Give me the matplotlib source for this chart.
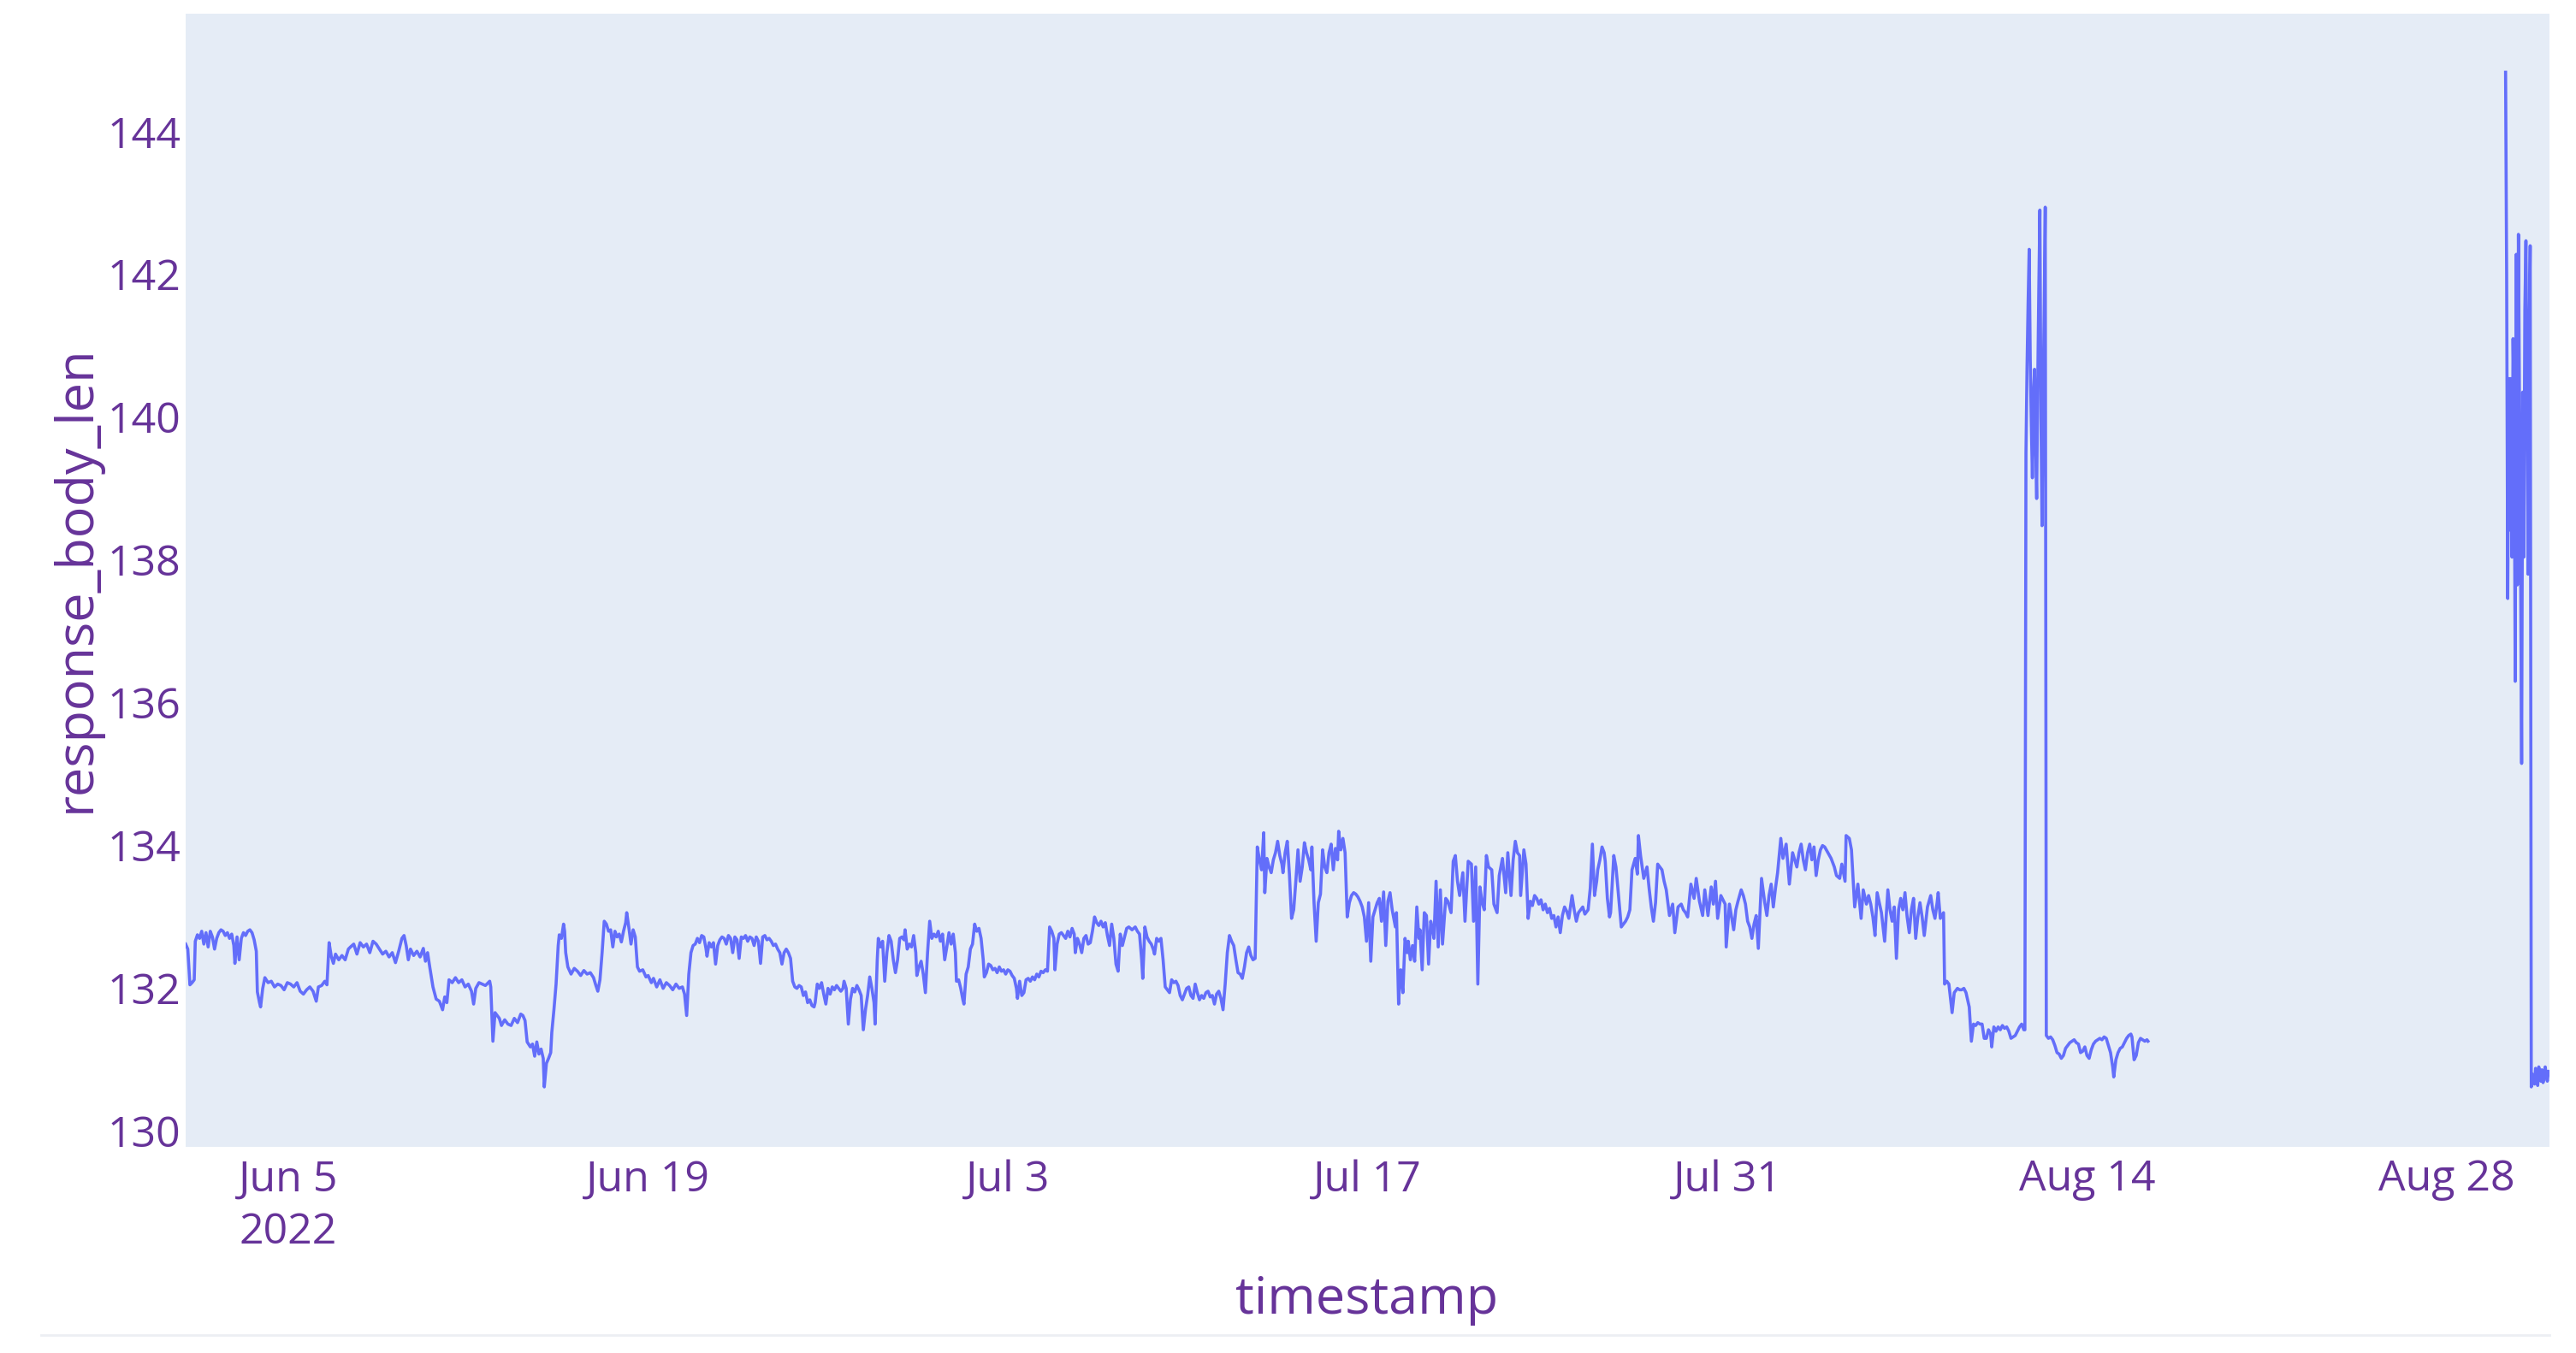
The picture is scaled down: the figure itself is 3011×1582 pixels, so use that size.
import numpy as np
import pandas as pd
import matplotlib
matplotlib.use('Agg')
import matplotlib.pyplot as plt
from matplotlib.lines import Line2D

start = pd.Timestamp('2022-06-01 00:00')

# (hours since Jun 1 00:00, response_body_len)
p1 = [(0, 132.62), (2, 132.55), (4, 132.05), (6, 132.08), (8, 132.12), (9, 132.66), (11, 132.75),
      (13, 132.70), (15, 132.80), (17, 132.62), (19, 132.78), (21, 132.58), (23, 132.80), (25, 132.72),
      (27, 132.55), (29, 132.70), (31, 132.78), (33, 132.82), (35, 132.80), (37, 132.74), (39, 132.78),
      (41, 132.70), (43, 132.76), (45, 132.60), (46, 132.35), (48, 132.72), (50, 132.40), (52, 132.70),
      (54, 132.78), (56, 132.74), (58, 132.80), (60, 132.82), (62, 132.78), (64, 132.68), (66, 132.52),
      (67, 131.95), (69, 131.80), (70, 131.74), (72, 132.00), (74, 132.15), (77, 132.08), (80, 132.10),
      (83, 132.02), (86, 132.06), (89, 132.04), (92, 131.98), (95, 132.08), (98, 132.06), (101, 132.02),
      (104, 132.08), (107, 131.96), (110, 131.92), (113, 131.98), (116, 132.02), (119, 131.96),
      (122, 131.82), (124, 132.02), (127, 132.04), (130, 132.10), (132, 132.05), (134, 132.64),
      (136, 132.45), (138, 132.35), (140, 132.48), (143, 132.40), (146, 132.46), (149, 132.40),
      (152, 132.55), (154, 132.58), (157, 132.62), (160, 132.48), (163, 132.64), (166, 132.58),
      (169, 132.62), (172, 132.50), (175, 132.66), (178, 132.62), (181, 132.55), (184, 132.48),
      (187, 132.52), (190, 132.44), (193, 132.50), (196, 132.36), (199, 132.52), (202, 132.70),
      (204, 132.74), (206, 132.60), (208, 132.40), (210, 132.55), (213, 132.46), (216, 132.52),
      (219, 132.44), (222, 132.56), (224, 132.38), (226, 132.50), (228, 132.30), (231, 132.02),
      (234, 131.85), (237, 131.82), (240, 131.70), (242, 131.88), (244, 131.80), (246, 132.12),
      (249, 132.08), (252, 132.15), (255, 132.08), (258, 132.12), (261, 132.02), (264, 132.06),
      (267, 131.96), (269, 131.78), (271, 132.00), (274, 132.08), (277, 132.06), (280, 132.04)]

p2 = [(284, 132.10), (285, 132.02), (287, 131.26), (289, 131.66), (291, 131.62), (293, 131.58),
      (295, 131.48), (298, 131.56), (301, 131.50), (304, 131.48), (307, 131.58), (310, 131.52),
      (313, 131.64), (315, 131.62), (317, 131.55), (319, 131.25), (322, 131.18), (324, 131.22),
      (326, 131.05), (328, 131.25), (330, 131.08), (332, 131.15), (334, 131.02), (335, 130.62),
      (337, 130.95), (339, 131.02), (341, 131.10), (342, 131.38), (344, 131.70), (346, 132.06),
      (348, 132.60), (349, 132.75), (351, 132.70), (353, 132.90), (354, 132.80), (355, 132.50),
      (357, 132.30), (360, 132.20), (363, 132.28), (366, 132.24), (369, 132.18), (372, 132.25),
      (375, 132.20), (378, 132.22), (381, 132.15), (383, 132.05), (385, 131.96), (387, 132.12),
      (389, 132.50), (391, 132.94), (393, 132.90), (395, 132.80), (397, 132.82), (399, 132.58),
      (401, 132.80), (403, 132.72), (405, 132.76), (407, 132.65), (409, 132.80), (411, 132.92),
      (412, 133.06), (414, 132.85), (416, 132.62), (418, 132.82), (420, 132.72), (422, 132.30),
      (424, 132.24), (427, 132.26), (430, 132.16), (432, 132.18), (435, 132.08), (437, 132.14),
      (440, 132.02), (443, 132.12), (446, 132.00), (449, 132.08), (452, 132.04), (455, 131.98),
      (458, 132.06), (461, 132.00), (464, 132.02), (466, 131.92), (468, 131.62), (470, 132.20),
      (472, 132.50), (474, 132.60), (476, 132.62), (478, 132.70), (480, 132.64), (482, 132.74),
      (484, 132.72), (486, 132.56), (487, 132.45), (489, 132.64), (491, 132.58), (493, 132.64),
      (495, 132.34), (497, 132.60), (499, 132.68), (501, 132.72), (503, 132.70), (505, 132.62),
      (507, 132.74), (509, 132.70), (511, 132.50), (513, 132.72), (515, 132.68), (517, 132.42),
      (519, 132.72), (521, 132.70), (523, 132.74), (525, 132.66), (527, 132.72), (529, 132.70),
      (531, 132.60), (533, 132.72), (535, 132.66), (537, 132.35), (539, 132.72), (541, 132.74),
      (543, 132.68), (545, 132.70), (547, 132.66), (549, 132.60), (551, 132.62), (553, 132.55),
      (555, 132.50), (557, 132.34), (559, 132.50), (561, 132.55)]

p3 = [(563, 132.50), (565, 132.42), (567, 132.10), (569, 132.02), (571, 132.00), (573, 132.04),
      (575, 132.02), (577, 131.90), (579, 131.95), (581, 131.80), (583, 131.84), (585, 131.76),
      (587, 131.74), (588, 131.80), (590, 132.06), (592, 132.00), (594, 132.08), (596, 131.92),
      (598, 131.78), (600, 132.00), (602, 131.92), (604, 132.02), (606, 131.98), (608, 132.04),
      (610, 132.00), (612, 131.96), (614, 132.00), (615, 132.10), (617, 132.00), (619, 131.50),
      (621, 131.85), (623, 132.00), (625, 131.95), (627, 132.04), (629, 131.98), (631, 131.90),
      (633, 131.42), (635, 131.70), (637, 131.90), (639, 132.16), (641, 132.00), (643, 131.80),
      (644, 131.50), (646, 132.40), (647, 132.70), (649, 132.58), (651, 132.66), (653, 132.10),
      (655, 132.50), (657, 132.74), (659, 132.66), (661, 132.40), (663, 132.22), (665, 132.40),
      (667, 132.70), (669, 132.72), (671, 132.68), (672, 132.82), (674, 132.55), (676, 132.62),
      (678, 132.58), (680, 132.74), (682, 132.50), (683, 132.18), (685, 132.30), (687, 132.38),
      (689, 132.20), (691, 131.94), (693, 132.50), (695, 132.94), (697, 132.70), (699, 132.76),
      (701, 132.72), (703, 132.80), (705, 132.66), (707, 132.76), (709, 132.40), (711, 132.58),
      (713, 132.78), (715, 132.62), (717, 132.76), (719, 132.50), (720, 132.10), (722, 132.12),
      (724, 132.00), (726, 131.84), (727, 131.78), (729, 132.20), (731, 132.30), (733, 132.55),
      (735, 132.62), (737, 132.90), (739, 132.80), (741, 132.84), (743, 132.70), (745, 132.40),
      (746, 132.16), (748, 132.22), (750, 132.34), (752, 132.32), (754, 132.26), (756, 132.28),
      (758, 132.22), (760, 132.30), (762, 132.24), (764, 132.26), (766, 132.20), (768, 132.26),
      (770, 132.24), (772, 132.18), (774, 132.14), (776, 132.00), (777, 131.86), (779, 132.10),
      (781, 131.90), (783, 131.94), (785, 132.12), (787, 132.14), (789, 132.10), (791, 132.16),
      (793, 132.12), (795, 132.20), (797, 132.16), (799, 132.24), (801, 132.22), (803, 132.26),
      (805, 132.24), (807, 132.86), (809, 132.80), (811, 132.70), (812, 132.26), (814, 132.62),
      (816, 132.76), (818, 132.78), (820, 132.74), (822, 132.70), (824, 132.80), (826, 132.72),
      (828, 132.84), (830, 132.76), (831, 132.50), (833, 132.70), (835, 132.62), (837, 132.50),
      (839, 132.70)]

p4 = [(841, 132.74), (843, 132.62), (845, 132.64), (847, 132.80), (849, 133.00), (851, 132.92),
      (853, 132.88), (855, 132.94), (857, 132.86), (859, 132.92), (861, 132.74), (863, 132.60),
      (865, 132.90), (867, 132.70), (869, 132.34), (871, 132.24), (873, 132.76), (875, 132.60),
      (877, 132.72), (879, 132.84), (881, 132.86), (884, 132.82), (887, 132.86), (889, 132.80),
      (891, 132.76), (893, 132.40), (894, 132.14), (896, 132.86), (898, 132.72), (900, 132.66),
      (902, 132.62), (904, 132.54), (905, 132.48), (907, 132.70), (909, 132.66), (911, 132.70),
      (913, 132.40), (915, 132.02), (917, 131.98), (919, 131.94), (921, 132.12), (923, 132.08),
      (925, 132.10), (927, 132.04), (929, 131.90), (931, 131.84), (933, 131.92), (935, 132.00),
      (937, 132.02), (939, 131.90), (941, 131.86), (943, 132.06), (945, 131.94), (947, 131.84),
      (949, 131.90), (951, 131.86), (953, 131.94), (955, 131.96), (957, 131.88), (959, 131.90),
      (961, 131.78), (963, 131.92), (965, 131.96), (967, 131.86), (969, 131.70), (971, 132.06),
      (973, 132.50), (975, 132.74), (977, 132.66), (979, 132.60), (981, 132.40), (983, 132.22),
      (985, 132.20), (987, 132.14), (989, 132.30), (991, 132.50), (993, 132.58), (995, 132.46),
      (997, 132.40), (999, 132.42), (1001, 133.98), (1003, 133.80), (1005, 133.66), (1007, 134.18),
      (1008, 133.34), (1010, 133.82), (1012, 133.70), (1014, 133.62), (1016, 133.80), (1018, 133.90),
      (1020, 134.06), (1022, 133.86), (1024, 133.74), (1025, 133.62), (1027, 133.90), (1029, 134.06),
      (1031, 133.60), (1033, 132.98), (1035, 133.10), (1037, 133.50), (1039, 133.94), (1041, 133.50),
      (1043, 133.70), (1045, 134.04), (1047, 133.90), (1049, 133.80), (1051, 133.66), (1052, 133.98),
      (1054, 133.20), (1056, 132.66), (1058, 133.20), (1060, 133.32), (1062, 133.94), (1064, 133.70),
      (1066, 133.62), (1068, 133.90), (1070, 134.02), (1072, 133.66), (1074, 133.96), (1076, 133.80),
      (1077, 134.20), (1079, 133.94), (1081, 134.10), (1083, 133.90), (1085, 133.00), (1087, 133.20),
      (1089, 133.30), (1091, 133.34), (1093, 133.32), (1095, 133.28), (1097, 133.22), (1099, 133.14),
      (1101, 133.00), (1103, 132.66), (1105, 133.20), (1107, 132.38), (1109, 133.00), (1111, 133.10),
      (1113, 133.20), (1115, 133.26), (1117, 132.94), (1119, 133.35), (1121, 132.60)]

p5 = [(1123, 133.22), (1125, 133.34), (1127, 133.10), (1128, 133.02), (1130, 132.86), (1131, 133.06),
      (1133, 131.78), (1134, 132.10), (1135, 132.26), (1137, 131.94), (1139, 132.70), (1141, 132.50),
      (1142, 132.66), (1144, 132.40), (1146, 132.60), (1148, 132.38), (1150, 133.14), (1152, 132.70),
      (1153, 132.82), (1155, 132.26), (1157, 133.06), (1159, 133.02), (1161, 132.34), (1163, 132.94),
      (1165, 132.80), (1166, 132.70), (1168, 133.50), (1170, 132.58), (1172, 133.38), (1174, 132.62),
      (1177, 133.26), (1179, 133.22), (1182, 133.06), (1184, 133.78), (1186, 133.86), (1188, 133.50),
      (1190, 133.30), (1193, 133.62), (1195, 132.94), (1198, 133.78), (1201, 133.74), (1203, 132.94),
      (1205, 133.70), (1207, 132.06), (1209, 133.42), (1211, 133.20), (1213, 133.10), (1215, 133.86),
      (1217, 133.70), (1220, 133.66), (1222, 133.18), (1225, 133.06), (1227, 133.58), (1230, 133.82),
      (1233, 133.34), (1235, 133.90), (1238, 133.30), (1240, 133.80), (1242, 134.06), (1244, 133.90),
      (1246, 133.86), (1247, 133.30), (1250, 133.94), (1252, 133.74), (1254, 132.98), (1256, 133.22),
      (1258, 133.16), (1260, 133.30), (1262, 133.26), (1264, 133.18), (1266, 133.24), (1268, 133.10),
      (1270, 133.18), (1272, 133.06), (1274, 133.12), (1276, 132.98), (1278, 133.02), (1280, 132.86),
      (1282, 133.00), (1284, 132.78), (1286, 133.02), (1288, 133.14), (1290, 133.08), (1292, 132.98),
      (1295, 133.30), (1297, 133.10), (1299, 132.94), (1301, 133.06), (1303, 133.10), (1305, 133.14),
      (1307, 133.04), (1310, 133.10), (1312, 133.40), (1314, 134.02), (1316, 133.30), (1318, 133.50),
      (1319, 133.66), (1321, 133.80), (1323, 133.98), (1325, 133.90), (1326, 133.78), (1328, 133.26),
      (1330, 133.00), (1331, 133.06), (1334, 133.86), (1336, 133.70), (1337, 133.54), (1339, 133.20),
      (1341, 132.86), (1343, 132.90), (1345, 132.94), (1347, 133.00), (1349, 133.10), (1351, 133.66),
      (1354, 133.82), (1356, 133.60), (1357, 134.14), (1359, 133.86), (1362, 133.54), (1365, 133.70),
      (1367, 133.40), (1369, 133.14), (1371, 132.94), (1373, 133.20), (1375, 133.74), (1377, 133.70),
      (1379, 133.66), (1381, 133.50), (1383, 133.38), (1386, 133.02), (1389, 133.18), (1391, 132.78),
      (1394, 133.14), (1397, 133.18), (1399, 133.10)]

p6 = [(1401, 133.06), (1403, 133.00), (1406, 133.46), (1409, 133.26), (1411, 133.54), (1414, 133.22),
      (1417, 133.02), (1419, 133.38), (1422, 133.02), (1425, 133.42), (1427, 133.18), (1429, 133.50),
      (1431, 132.98), (1434, 133.30), (1436, 133.24), (1438, 133.18), (1439, 132.58), (1442, 133.18),
      (1444, 133.00), (1446, 132.82), (1448, 133.10), (1450, 133.22), (1453, 133.38), (1455, 133.30),
      (1457, 133.18), (1459, 132.94), (1461, 132.86), (1463, 132.70), (1465, 132.90), (1467, 133.02),
      (1469, 132.56), (1471, 133.20), (1472, 133.54), (1475, 133.20), (1477, 133.02), (1479, 133.30),
      (1481, 133.46), (1483, 133.14), (1485, 133.40), (1487, 133.62), (1490, 134.10), (1492, 133.82),
      (1495, 134.02), (1498, 133.46), (1501, 133.90), (1503, 133.80), (1505, 133.70), (1507, 133.90),
      (1509, 134.02), (1511, 133.80), (1513, 133.66), (1515, 133.90), (1517, 134.02), (1519, 133.80),
      (1521, 133.98), (1523, 133.58), (1525, 133.80), (1527, 133.94), (1529, 134.00), (1531, 133.98),
      (1534, 133.90), (1537, 133.82), (1540, 133.70), (1542, 133.58), (1545, 133.54), (1547, 133.74),
      (1550, 133.50), (1551, 134.14), (1554, 134.10), (1556, 133.94), (1559, 133.14), (1562, 133.46),
      (1565, 132.98), (1567, 133.38), (1570, 133.18), (1572, 133.30), (1574, 133.18), (1576, 133.00),
      (1578, 132.74), (1580, 133.34), (1582, 133.20), (1584, 133.06), (1587, 132.66), (1590, 133.38),
      (1592, 133.10), (1594, 132.94), (1596, 133.14), (1598, 132.42), (1600, 133.10), (1602, 133.26),
      (1604, 133.10), (1606, 133.34), (1608, 133.00), (1610, 132.78), (1612, 133.10), (1614, 133.26),
      (1616, 132.70), (1618, 133.00), (1620, 133.20), (1622, 133.00), (1624, 132.74), (1626, 133.00),
      (1627, 133.14), (1630, 133.30), (1632, 133.10), (1634, 132.98), (1636, 133.20), (1637, 133.34),
      (1639, 132.98), (1642, 133.06), (1643, 132.06), (1645, 132.10), (1647, 132.06), (1650, 131.66),
      (1652, 131.94), (1655, 132.00), (1657, 131.98), (1659, 131.98), (1661, 132.00), (1663, 131.94),
      (1666, 131.74), (1668, 131.26), (1670, 131.50), (1672, 131.48), (1674, 131.52), (1676, 131.50),
      (1678, 131.50), (1680, 131.30)]

p7 = [(1682, 131.30), (1684, 131.42), (1686, 131.36), (1687, 131.18), (1689, 131.46), (1691, 131.40),
      (1693, 131.46), (1695, 131.42), (1697, 131.48), (1699, 131.44), (1701, 131.46), (1703, 131.40),
      (1705, 131.30), (1707, 131.32), (1709, 131.34), (1711, 131.40), (1713, 131.46), (1715, 131.50),
      (1717, 131.42), (1718, 131.42),
      # burst around Aug 12
      (1719, 139.50), (1720, 140.70), (1721, 141.60), (1722, 142.35), (1723, 140.80), (1724, 139.90),
      (1725, 139.15), (1726, 140.30), (1727, 140.67), (1728, 139.60), (1729, 138.86), (1730, 140.50),
      (1731, 141.80), (1732, 142.90), (1733, 140.00), (1734, 138.48), (1735, 140.24), (1736, 141.50),
      (1737, 142.94), (1738, 131.34),
      (1740, 131.30), (1742, 131.32), (1744, 131.28), (1746, 131.20), (1748, 131.10), (1750, 131.08),
      (1752, 131.02), (1754, 131.06), (1756, 131.16), (1758, 131.20), (1760, 131.24), (1762, 131.26),
      (1764, 131.28), (1766, 131.24), (1768, 131.22), (1770, 131.10), (1772, 131.12), (1774, 131.18),
      (1776, 131.06), (1778, 131.02), (1780, 131.14), (1782, 131.22), (1784, 131.26), (1786, 131.28),
      (1788, 131.30), (1790, 131.28), (1792, 131.32), (1794, 131.30), (1796, 131.20), (1798, 131.10),
      (1800, 130.90), (1801, 130.76), (1803, 131.00), (1805, 131.10), (1807, 131.16), (1809, 131.18),
      (1811, 131.24), (1813, 131.30), (1815, 131.34), (1817, 131.36), (1818, 131.32), (1820, 131.00),
      (1822, 131.06), (1824, 131.24), (1826, 131.30), (1828, 131.28), (1830, 131.26), (1832, 131.28),
      (1833, 131.26)]

# after the outage (Aug 30 - Sep 1)
p8 = [(2167, 144.83), (2168, 142.00), (2169, 137.46), (2170, 140.54), (2171, 138.42), (2172, 140.54),
      (2173, 138.04), (2174, 141.10), (2175, 140.00), (2176, 136.30), (2177, 142.28), (2178, 137.65),
      (2179, 142.56), (2180, 140.16), (2181, 138.00), (2182, 135.15), (2183, 140.35), (2184, 138.04),
      (2185, 141.50), (2186, 142.47), (2187, 140.40), (2188, 137.80), (2189, 141.00), (2190, 142.40),
      (2191, 130.62), (2192, 130.80), (2193, 130.70), (2194, 130.66), (2195, 130.88), (2196, 130.72),
      (2197, 130.64), (2198, 130.90), (2199, 130.82), (2200, 130.70), (2201, 130.86), (2202, 130.68),
      (2203, 130.74), (2204, 130.90), (2205, 130.80), (2206, 130.70), (2207, 130.84), (2208, 130.80)]

tick_dates = ['2022-06-05', '2022-06-19', '2022-07-03', '2022-07-17', '2022-07-31', '2022-08-14', '2022-08-28']
tick_labels = ['Jun 5\n2022', 'Jun 19', 'Jul 3', 'Jul 17', 'Jul 31', 'Aug 14', 'Aug 28']
y_ticks = [130, 132, 134, 136, 138, 140, 142, 144]

main = p1 + p2 + p3 + p4 + p5 + p6 + p7
hours = [h for h, v in main] + [2000] + [h for h, v in p8]
vals = [v for h, v in main] + [np.nan] + [v for h, v in p8]
ts = start + pd.to_timedelta(hours, unit='h')

purple = '#663399'
plt.rcParams['font.family'] = ['Open Sans', 'DejaVu Sans']

W, H = 3011, 1582
fig = plt.figure(figsize=(W / 100, H / 100), dpi=100)
ax = fig.add_axes([217 / W, 1 - 1341 / H, (2980 - 217) / W, (1341 - 16) / H])
ax.set_facecolor('#E5ECF6')
ax.plot(ts, vals, color='#636efa', lw=2.6)

for s in ax.spines.values():
    s.set_visible(False)
ax.set_xlim(start, start + pd.Timedelta(days=92))
ax.set_ylim(129.78, 145.65)
ax.set_xticks(pd.to_datetime(tick_dates))
ax.set_xticklabels(tick_labels)
ax.set_yticks(y_ticks)
ax.tick_params(length=0, colors=purple, labelsize=36)
ax.tick_params(axis='x', pad=10)
ax.tick_params(axis='y', pad=4)
for lbl in ax.get_xticklabels():
    lbl.set_linespacing(1.32)

fig.text(1598 / W, 1 - 1536 / H, 'timestamp', ha='center', va='baseline', fontsize=44, color=purple)
fig.text(89 / W, 1 - 677 / H, 'response_body_len', ha='center', va='center', rotation=90,
         fontsize=44, color=purple)

fig.add_artist(Line2D([48 / W, 2980 / W], [1 - 1561 / H, 1 - 1561 / H], transform=fig.transFigure,
                      color='#eceff3', lw=2))

fig.savefig('out.png', dpi=100, facecolor='white')
